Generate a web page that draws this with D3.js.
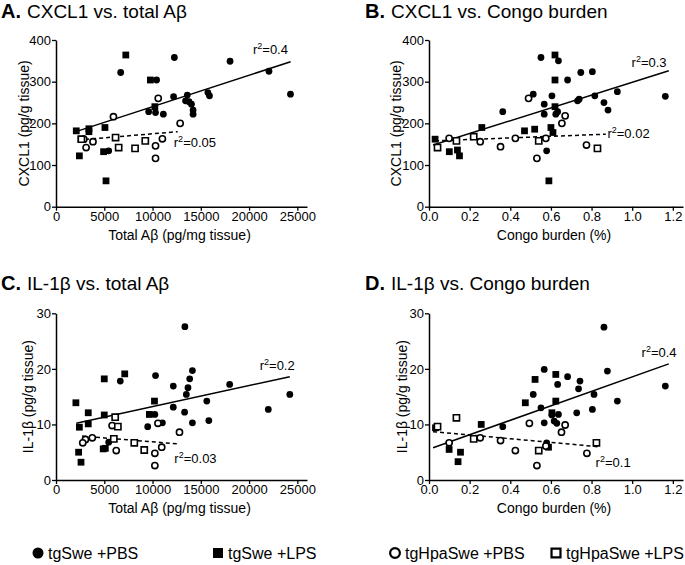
<!DOCTYPE html>
<html lang="en">
<head>
<meta charset="utf-8" />
<title>Cytokines vs amyloid burden</title>
<script src="https://cdn.jsdelivr.net/npm/d3@7"></script>
<style>
  body { margin: 0; background: #fff; }
  text { font-family: Arial, "Liberation Sans", sans-serif; fill: #000; }
</style>
</head>
<body>
<svg width="685" height="565"></svg>
<script>
// group index: 0 tgSwe +PBS, 1 tgSwe +LPS, 2 tgHpaSwe +PBS, 3 tgHpaSwe +LPS
var groups = ['tgSwe +PBS', 'tgSwe +LPS', 'tgHpaSwe +PBS', 'tgHpaSwe +LPS'];

var abetaTicks = [0, 5000, 10000, 15000, 20000, 25000];
var congoTicks = [0, 0.2, 0.4, 0.6, 0.8, 1.0, 1.2];
var cxclTicks = [0, 100, 200, 300, 400];
var il1bTicks = [0, 10, 20, 30];

// A. CXCL1 vs total Abeta  [x, y, group]
var pointsA = [
  [6700,322,0],[12260,358,0],[18030,349,0],[22060,325,0],[24290,270,0],[10420,304,0],
  [12180,264,0],[13600,268,0],[13420,254,0],[13780,252,0],[14030,246,0],[14200,232,0],
  [14200,222,0],[15730,274,0],[15900,266,0],[9600,228,0],[10310,226,0],[11120,222,0],
  [5460,134,0],
  [7230,364,1],[9780,304,1],[10240,240,1],[2100,182,1],[3410,187,1],[3410,180,1],
  [5070,190,1],[2590,162,1],[2420,122,1],[4930,132,1],[5180,62,1],
  [10590,260,2],[5950,216,2],[12860,200,2],[11020,163,2],[10310,146,2],[10310,116,2],
  [3830,156,2],[3120,142,2],[2880,162,2],
  [6170,166,3],[6490,142,3],[8190,140,3],[9250,158,3],[2630,162,3]
];
var fitsA = [[[2300,182],[24300,348]], [[2300,160],[12600,180]]];
var r2A = [['0.4',20400,366], ['0.05',12200,144]];

// B. CXCL1 vs Congo burden
var pointsB = [
  [0.551,358,0],[0.637,350,0],[0.682,304,0],[0.747,322,0],[0.804,324,0],[0.513,270,0],
  [0.605,266,0],[0.567,246,0],[0.567,222,0],[0.624,222,0],[0.633,228,0],[0.363,228,0],
  [0.731,254,0],[0.739,258,0],[0.816,266,0],[0.861,250,0],[0.881,232,0],[0.927,276,0],
  [1.163,265,0],[0.579,134,0],
  [0.62,364,1],[0.62,304,1],[0.62,240,1],[0.60,190,1],[0.61,178,1],[0.52,186,1],
  [0.47,182,1],[0.26,190,1],[0.03,162,1],[0.10,132,1],[0.14,136,1],[0.15,122,1],[0.59,62,1],
  [0.49,260,2],[0.67,218,2],[0.654,200,2],[0.099,164,2],[0.252,156,2],[0.352,144,2],
  [0.425,164,2],[0.575,164,2],[0.531,116,2],[0.775,148,2],
  [0.042,142,3],[0.135,158,3],[0.22,168,3],[0.54,158,3],[0.829,140,3]
];
var fitsB = [[[0.02,148],[1.18,326]], [[0.03,158],[0.87,174]]];
var r2B = [['0.3',0.997,336], ['0.02',0.878,164]];

// C. IL-1beta vs total Abeta
var pointsC = [
  [13350,27.6,0],[14130,19.7,0],[13850,18.2,0],[13670,16.6,0],[13500,15.4,0],[17990,17.2,0],
  [24220,15.4,0],[21990,12.7,0],[15620,14.2,0],[15830,10.7,0],[14130,10.3,0],[13320,12.2,0],
  [12150,16.9,0],[12150,13.1,0],[10310,18.8,0],[6660,17.8,0],[10240,11.8,0],[11020,10.3,0],
  [9500,9.6,0],[5460,6.8,0],
  [2060,13.9,1],[3340,12.1,1],[3340,10.1,1],[2420,9.5,1],[5000,18.2,1],[7120,19.1,1],
  [10200,14.2,1],[9670,11.8,1],[5000,11.7,1],[2340,5.0,1],[2590,3.2,1],[4890,5.6,1],[5110,5.7,1],
  [5810,9.8,2],[10560,10.2,2],[12790,8.6,2],[10950,5.9,2],[10240,4.8,2],[10240,2.6,2],
  [6240,5.3,2],[3760,7.6,2],[3050,7.3,2],[2770,6.7,2],
  [6130,11.3,3],[6410,9.6,3],[5990,7.4,3],[8110,6.7,3],[9140,5.4,3]
];
var fitsC = [[[2100,10.2],[24220,18.6]], [[2700,7.9],[12610,6.5]]];
var r2C = [['0.2',21100,19.8], ['0.03',12260,3.0]];

// D. IL-1beta vs Congo burden
var pointsD = [
  [0.861,27.5,0],[0.878,19.6,0],[0.927,14.2,0],[1.163,16.9,0],[0.804,12.7,0],[0.812,15.4,0],
  [0.743,17.8,0],[0.736,16.4,0],[0.727,12.1,0],[0.682,18.6,0],[0.633,17.2,0],[0.567,19.9,0],
  [0.513,15.4,0],[0.551,13.0,0],[0.567,10.3,0],[0.605,11.7,0],[0.616,10.6,0],[0.629,10.2,0],
  [0.637,11.8,0],[0.363,9.6,0],[0.579,6.7,0],
  [0.032,9.4,1],[0.099,5.5,1],[0.143,3.3,1],[0.155,5.0,1],[0.257,10.0,1],[0.474,13.9,1],
  [0.522,18.1,1],[0.624,19.0,1],[0.624,14.2,1],[0.605,12.1,1],[0.588,5.9,1],
  [0.099,6.7,2],[0.252,7.6,2],[0.352,7.1,2],[0.425,5.3,2],[0.494,10.2,2],[0.531,2.6,2],
  [0.575,6.1,2],[0.652,8.6,2],[0.67,9.9,2],[0.777,4.8,2],
  [0.042,9.6,3],[0.135,11.2,3],[0.22,7.4,3],[0.54,5.3,3],[0.824,6.7,3]
];
var fitsD = [[[0.02,5.8],[1.18,20.9]], [[0.02,8.7],[0.83,6.0]]];
var r2D = [['0.4',1.046,22.1], ['0.1',0.82,2.4]];

var svg = d3.select('svg');

// one symbol per group: filled circle, filled square, open circle, open square
function addMarker(sel, grp, big) {
  var sq = grp === 1 || grp === 3;
  var open = grp >= 2;
  var size = sq ? (big ? 100 : 46) : (big ? 95 : 36);
  if (open) size = sq ? (big ? 80 : 38) : (big ? 75 : 30);
  sel.append('path')
    .attr('d', d3.symbol().type(sq ? d3.symbolSquare : d3.symbolCircle).size(size))
    .attr('fill', open ? '#fff' : '#000')
    .attr('stroke', open ? '#000' : 'none')
    .attr('stroke-width', open ? (big ? 2.2 : 1.6) : 0);
}

function drawPanel(p) {
  var x = d3.scaleLinear().domain(p.xDomain).range(p.xRange);
  var y = d3.scaleLinear().domain(p.yDomain).range(p.yRange);
  var g = svg.append('g');

  // title: bold letter then plain text
  var t = g.append('text').attr('x', p.titleX).attr('y', p.titleY);
  t.append('tspan').attr('font-weight', 'bold').attr('font-size', 20).text(p.letter + '.');
  t.append('tspan').attr('font-size', 19).attr('dx', 6).text(p.title);

  g.append('g')
    .attr('transform', 'translate(0,' + p.yRange[0] + ')')
    .call(d3.axisBottom(x).tickValues(p.xTicks).tickFormat(p.xFormat)
      .tickSize(4).tickSizeOuter(0).tickPadding(1));
  g.append('g')
    .attr('transform', 'translate(' + p.xRange[0] + ',0)')
    .call(d3.axisLeft(y).tickValues(p.yTicks).tickSize(4).tickSizeOuter(0).tickPadding(1));
  g.selectAll('.domain').attr('stroke-width', 1.5);
  g.selectAll('.tick line').attr('stroke-width', 1.3);
  g.selectAll('.tick text').attr('font-size', 13)
    .attr('font-family', 'Arial, "Liberation Sans", sans-serif').attr('fill', '#000');

  // axis titles
  g.append('text')
    .attr('x', (p.xRange[0] + p.xRange[1] - 4) / 2).attr('y', p.yRange[0] + 33)
    .attr('text-anchor', 'middle').attr('font-size', 14).text(p.xTitle);
  g.append('text')
    .attr('transform', 'translate(' + p.yTitleX + ',' + (p.yRange[0] + p.yRange[1]) / 2 + ') rotate(-90)')
    .attr('text-anchor', 'middle').attr('font-size', 14).text(p.yTitle);

  // regression lines, solid first then dashed
  g.selectAll('line.fit').data(p.fits).enter().append('line')
    .attr('class', 'fit')
    .attr('x1', function(d) { return x(d[0][0]); })
    .attr('y1', function(d) { return y(d[0][1]); })
    .attr('x2', function(d) { return x(d[1][0]); })
    .attr('y2', function(d) { return y(d[1][1]); })
    .attr('stroke', '#000').attr('stroke-width', 1.5)
    .attr('stroke-dasharray', function(d, i) { return i ? '4,3' : null; });

  // points
  g.selectAll('g.pt').data(p.points).enter().append('g')
    .attr('class', 'pt')
    .attr('transform', function(d) { return 'translate(' + x(d[0]) + ',' + y(d[1]) + ')'; })
    .each(function(d) { addMarker(d3.select(this), d[2], false); });

  // r squared labels
  var r = g.selectAll('text.r2').data(p.r2).enter().append('text')
    .attr('class', 'r2').attr('font-size', 13)
    .attr('x', function(d) { return x(d[1]); })
    .attr('y', function(d) { return y(d[2]); });
  r.append('tspan').text('r');
  r.append('tspan').attr('font-size', 9).attr('dy', -5).text('2');
  r.append('tspan').attr('dy', 5).text(function(d) { return '=' + d[0]; });
}

var fmtInt = d3.format('d');
var fmt1 = d3.format('.1f');

drawPanel({letter: 'A', title: 'CXCL1 vs. total A\u03b2', titleX: 1, titleY: 18,
  xDomain: [0, 26000], xRange: [56, 307], xTicks: abetaTicks, xFormat: fmtInt,
  yDomain: [0, 400], yRange: [206.7, 40], yTicks: cxclTicks,
  xTitle: 'Total A\u03b2 (pg/mg tissue)', yTitle: 'CXCL1 (pg/g tissue)', yTitleX: 29,
  points: pointsA, fits: fitsA, r2: r2A});

drawPanel({letter: 'B', title: 'CXCL1 vs. Congo burden', titleX: 365, titleY: 18,
  xDomain: [0, 1.25], xRange: [429, 683], xTicks: congoTicks, xFormat: fmt1,
  yDomain: [0, 400], yRange: [206.7, 40], yTicks: cxclTicks,
  xTitle: 'Congo burden (%)', yTitle: 'CXCL1 (pg/g tissue)', yTitleX: 401,
  points: pointsB, fits: fitsB, r2: r2B});

drawPanel({letter: 'C', title: 'IL-1\u03b2 vs. total A\u03b2', titleX: 1, titleY: 290,
  xDomain: [0, 26000], xRange: [56, 307], xTicks: abetaTicks, xFormat: fmtInt,
  yDomain: [0, 30], yRange: [480, 313.3], yTicks: il1bTicks,
  xTitle: 'Total A\u03b2 (pg/mg tissue)', yTitle: 'IL-1\u03b2 (pg/g tissue)', yTitleX: 33,
  points: pointsC, fits: fitsC, r2: r2C});

drawPanel({letter: 'D', title: 'IL-1\u03b2 vs. Congo burden', titleX: 365, titleY: 290,
  xDomain: [0, 1.25], xRange: [429, 683], xTicks: congoTicks, xFormat: fmt1,
  yDomain: [0, 30], yRange: [480, 313.3], yTicks: il1bTicks,
  xTitle: 'Congo burden (%)', yTitle: 'IL-1\u03b2 (pg/g tissue)', yTitleX: 407,
  points: pointsD, fits: fitsD, r2: r2D});

// legend along the bottom
var legendX = [38, 218, 395, 556];
var leg = svg.selectAll('g.leg').data(groups).enter().append('g')
  .attr('class', 'leg')
  .attr('transform', function(d, i) { return 'translate(' + legendX[i] + ',553)'; });
leg.each(function(d, i) { addMarker(d3.select(this), i, true); });
leg.append('text').attr('x', 10).attr('y', 5.5).attr('font-size', 16).text(function(d) { return d; });
</script>
</body>
</html>
